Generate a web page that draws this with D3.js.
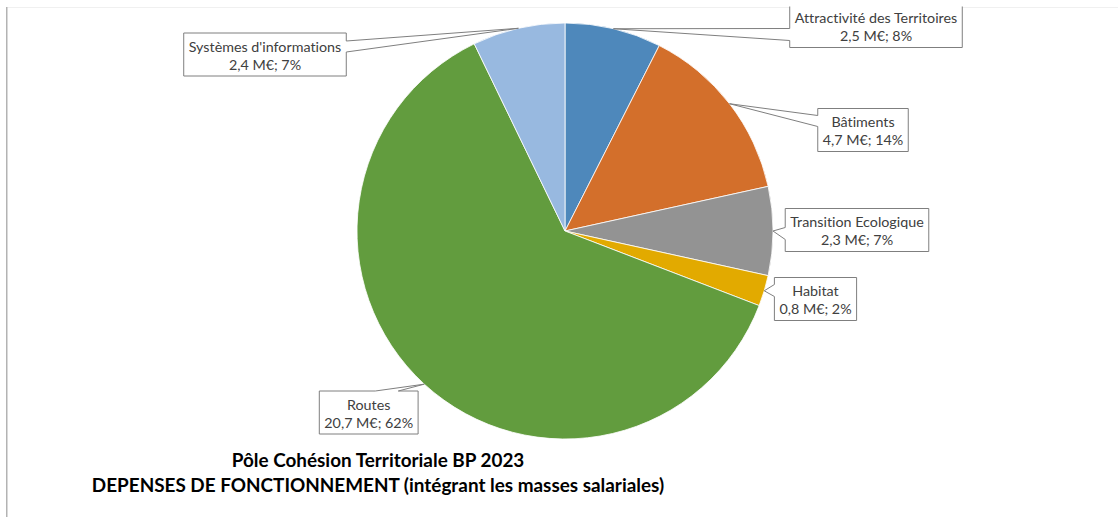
<!DOCTYPE html>
<html>
<head>
<meta charset="utf-8">
<script src="https://cdn.jsdelivr.net/npm/d3@7"></script>
<style>
  html, body { margin: 0; padding: 0; background: #ffffff; }
  svg { display: block; }
  text { font-variant-ligatures: none; }
</style>
</head>
<body>
<svg id="chart" width="1118" height="517"></svg>
<script>
// ---- data ----
const categories = ["Attractivité des Territoires", "Bâtiments", "Transition Ecologique", "Habitat", "Routes", "Systèmes d'informations"];
const values = [2.5, 4.7, 2.3, 0.8, 20.7, 2.4];
const valueLabels = ["2,5 M€; 8%", "4,7 M€; 14%", "2,3 M€; 7%", "0,8 M€; 2%", "20,7 M€; 62%", "2,4 M€; 7%"];
const colors = ["#4e88bb", "#d36f2b", "#939393", "#e2aa00", "#629c3e", "#98b9e0"];
const titleLines = ["Pôle Cohésion Territoriale BP 2023", "DEPENSES DE FONCTIONNEMENT (intégrant les masses salariales)"];

// ---- layout (label box placement) ----
const labelLayout = [
  { cx: 876, cy: 26, side: "left", base: [24, 36] },
  { cx: 863, cy: 130, side: "left", base: [7, 18] },
  { cx: 857, cy: 230, side: "left", base: [19, 31] },
  { cx: 815.5, cy: 299, side: "left", base: [7, 19] },
  { cx: 368.7, cy: 412.5, side: "top", base: [56, 79] },
  { cx: 265, cy: 54.5, side: "right", base: [8, 19] }
];

const svg = d3.select("#chart");
const W = 1118, H = 517;

// frame
svg.append("line").attr("x1", 7).attr("x2", W).attr("y1", 7.5).attr("y2", 7.5)
  .attr("stroke", "#f0f0f0").attr("stroke-width", 1);
svg.append("line").attr("x1", 6.75).attr("x2", 6.75).attr("y1", 7).attr("y2", H)
  .attr("stroke", "#b3b3b3").attr("stroke-width", 1.5);

const cx = 565, cy = 231, r = 208;

const pie = d3.pie().sort(null).value(d => d)(values);
const arc = d3.arc().innerRadius(0).outerRadius(r);
const edgeArc = d3.arc().innerRadius(r).outerRadius(r);

const g = svg.append("g").attr("transform", `translate(${cx},${cy})`);
g.selectAll("path.slice").data(pie).join("path")
  .attr("class", "slice")
  .attr("d", arc)
  .attr("fill", (d, i) => colors[i])
  .attr("stroke", "#ffffff")
  .attr("stroke-width", 0.8);

// clip for labels (chart area)
svg.append("defs").append("clipPath").attr("id", "area")
  .append("rect").attr("x", 7).attr("y", 6.5).attr("width", W).attr("height", H);

const lg = svg.append("g").attr("clip-path", "url(#area)");
const fontFamily = "Lato, 'Open Sans', sans-serif";
const fontSize = 14.3;
const boxH = 43;

pie.forEach((d, i) => {
  const L = labelLayout[i];
  const c = edgeArc.centroid(d);
  const tip = [cx + c[0], cy + c[1]];

  // measure text
  const tmp = lg.append("g");
  const t1 = tmp.append("text").attr("font-family", fontFamily).attr("font-size", fontSize).text(categories[i]);
  const t2 = tmp.append("text").attr("font-family", fontFamily).attr("font-size", fontSize).text(valueLabels[i]);
  const tw = Math.max(t1.node().getComputedTextLength(), t2.node().getComputedTextLength());
  tmp.remove();
  const bw = tw + 10;
  const left = L.cx - bw / 2, right = L.cx + bw / 2, top = L.cy - boxH / 2, bottom = L.cy + boxH / 2;

  let pts;
  if (L.side === "left") {
    pts = [[left, top], [right, top], [right, bottom], [left, bottom],
           [left, top + L.base[1]], tip, [left, top + L.base[0]]];
  } else if (L.side === "right") {
    pts = [[left, top], [right, top], [right, top + L.base[0]], tip,
           [right, top + L.base[1]], [right, bottom], [left, bottom]];
  } else {
    pts = [[left, top], [left + L.base[0], top], tip, [left + L.base[1], top],
           [right, top], [right, bottom], [left, bottom]];
  }
  lg.append("path")
    .attr("d", d3.line()(pts) + "Z")
    .attr("fill", "#ffffff")
    .attr("stroke", "#7f7f7f")
    .attr("stroke-width", 1);

  const tx = lg.append("text")
    .attr("font-family", fontFamily).attr("font-size", fontSize)
    .attr("fill", "#404040").attr("text-anchor", "middle");
  tx.append("tspan").attr("x", L.cx).attr("y", L.cy - 3).text(categories[i]);
  tx.append("tspan").attr("x", L.cx).attr("y", L.cy + 15).text(valueLabels[i]);
});

// title
const title = svg.append("text")
  .attr("font-family", fontFamily).attr("font-weight", "bold").attr("font-size", 18.9)
  .attr("fill", "#000000").attr("text-anchor", "middle");
titleLines.forEach((t, i) => {
  title.append("tspan").attr("x", 378).attr("y", 467 + i * 25).text(t);
});
</script>
</body>
</html>
